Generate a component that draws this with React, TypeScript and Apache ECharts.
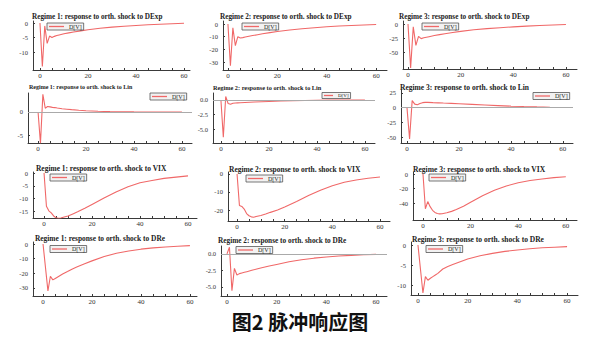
import React, { useEffect, useRef } from "react";
import * as echarts from "echarts";

// ---------- data ----------
const steps = [0, 1, 2, 3, 4, 5, 6, 7, 8, 10, 12, 14, 17, 20, 25, 30, 35, 40, 45, 50, 55, 60];
const shocks = ["DExp", "Lin", "VIX", "DRe"];
const regimes = [1, 2, 3];
const seriesName = "D[V]";
const caption = "图2 脉冲响应图";
const xTickLabels = [0, 20, 40, 60];
const xTickMarks = [0, 5, 10, 15, 20, 25, 30, 35, 40, 45, 50, 55, 60];

const r1DExp = [0, -15, -1, -7, -4.5, -5, -4.6, -4.3, -4.1, -3.7, -3.4, -3.1, -2.7, -2.3, -1.8, -1.4, -1.1, -0.85, -0.6, -0.4, -0.25, -0.1];
const r2DExp = [0, -33, -3, -17, -10, -11, -10.7, -10.3, -9.9, -9.1, -8.4, -7.7, -6.8, -5.9, -4.7, -3.7, -2.9, -2.2, -1.6, -1.1, -0.7, -0.4];
const r3DExp = [0, -78, -5, -38, -22, -26, -24.5, -23.5, -22.5, -20.5, -18.8, -17.2, -15, -13, -10.3, -8.2, -6.5, -5, -3.7, -2.6, -1.6, -0.8];

const r1Lin = [0, -6.8, 3.8, 0.8, 1.2, 1.1, 1.0, 0.95, 0.85, 0.7, 0.6, 0.5, 0.38, 0.28, 0.15, 0.08, 0.04, 0.02, 0.01, 0, 0, 0];
const r2Lin = [0, -6.4, 0.6, -0.6, -0.75, -0.55, -0.52, -0.5, -0.48, -0.44, -0.4, -0.36, -0.31, -0.26, -0.18, -0.12, -0.08, -0.05, -0.03, -0.02, -0.01, 0];
const r3Lin = [0, -53, 12, 6, 5, 7, 8.5, 9, 9, 8.5, 8.2, 7.8, 7.3, 6.7, 5.6, 4.5, 3.5, 2.6, 1.9, 1.3, 0.8, 0.4];

const r1VIX = [0, -13, -14.8, -15.6, -16.8, -17.5, -17.7, -17.6, -17.3, -16.8, -16, -15.2, -13.8, -12.3, -9.8, -7.4, -5.4, -3.8, -2.9, -2.1, -1.6, -1.1];
const r2VIX = [0, -17.5, -18, -19.5, -22, -23.2, -23.8, -24, -23.6, -23, -22.2, -21.3, -20, -18.3, -15.3, -12, -9, -6.5, -4.6, -3.3, -2.4, -1.7];
const r3VIX = [0, -48, -38, -45, -50, -53, -54.5, -55, -54.8, -53.5, -51.5, -49, -44.5, -39, -30, -22.5, -16.5, -12, -9, -6.8, -5, -3.7];

const r1DRe = [0, -16, -32, -22, -24.5, -23.5, -22.5, -21.5, -20.5, -18.8, -17, -15.5, -13.4, -11.5, -8.5, -6.3, -4.7, -3.5, -2.6, -2, -1.5, -1.1];
const r2DRe = [0, 1, -5.6, -2.2, -3.2, -3, -2.9, -2.8, -2.7, -2.5, -2.3, -2.1, -1.85, -1.6, -1.2, -0.9, -0.65, -0.47, -0.33, -0.22, -0.14, -0.08];
const r3DRe = [0, -6, -12, -7.9, -8.8, -8.3, -7.9, -7.5, -7.1, -6, -5.4, -4.9, -4.2, -3.5, -2.7, -2.1, -1.6, -1.25, -0.95, -0.7, -0.55, -0.4];

const values = [r1DExp, r2DExp, r3DExp, r1Lin, r2Lin, r3Lin, r1VIX, r2VIX, r3VIX, r1DRe, r2DRe, r3DRe];

const yTickLabels = [
  [0, -5, -10], [0, -10, -20, -30], [0, -25, -50],
  [0, -5], [0, -2.5, -5], [25, 0, -25, -50],
  [0, -5, -10, -15], [0, -10, -20], [0, -20, -40],
  [0, -10, -20, -30], [0, -2.5, -5], [0, -5, -10],
];

// ---------- layout (pixels / axis ranges) ----------
type Panel = {
  g: number[]; x: number[]; y: number[]; t: number[]; lg: number[];
  lw?: number; lf?: number; zero?: boolean; dec?: number;
};
const panels: Panel[] = [
  { g: [33, 21, 190, 70], x: [-2.9, 62.5], y: [-16.2, 0.7], t: [32, 17, 7.2], lg: [47, 23] },
  { g: [223, 21, 387, 70], x: [-2, 64.4], y: [-36.3, 2.4], t: [220, 17, 7.25], lg: [242, 23] },
  { g: [403, 21, 577, 69], x: [-1.9, 64.2], y: [-80, 5.4], t: [399, 17, 7.2], lg: [422, 23] },
  { g: [28, 93, 192, 143], x: [-4.2, 64.2], y: [-6.7, 4.1], t: [29, 87, 6.0], lg: [150, 93], zero: true },
  { g: [213, 93, 375, 143], x: [-3.3, 64.2], y: [-7.4, 1.2], t: [213, 87, 6.3], lg: [322, 92.5], lw: 9, lf: 5, zero: true, dec: 1 },
  { g: [401, 90, 573, 143], x: [-2.3, 63.9], y: [-60, 30], t: [400, 87, 7.5], lg: [533, 92.5], zero: true },
  { g: [33, 172, 197, 218], x: [-4.6, 63.75], y: [-17.6, 0.4], t: [36, 168, 7.45], lg: [50, 174] },
  { g: [228, 172, 390, 221], x: [-3.8, 64.2], y: [-26.1, 1.1], t: [229, 169, 7.5], lg: [246, 175] },
  { g: [413, 172, 577, 220], x: [-4.2, 64.7], y: [-63.4, 2.8], t: [413, 169, 7.55], lg: [429, 174] },
  { g: [33, 242, 197, 296], x: [-4.1, 62.9], y: [-35.5, 1.4], t: [35, 238, 7.4], lg: [50, 245.5] },
  { g: [221, 246, 387, 296], x: [-2.4, 64.4], y: [-6.4, 1.2], t: [218, 240, 7.3], lg: [236, 246.5], zero: true, dec: 1 },
  { g: [411, 242, 578, 295], x: [-2.8, 64.4], y: [-12.5, 0.75], t: [412, 239, 7.5], lg: [426, 245.5] },
];

const LINE_COLOR = "#f06868";
const AXIS_COLOR = "#3a3a3a";
const SERIF = "'Liberation Serif', 'Times New Roman', serif";

function buildOption() {
  const titles: any[] = [];
  const grids: any[] = [];
  const xAxes: any[] = [];
  const yAxes: any[] = [];
  const legends: any[] = [];
  const series: any[] = [];

  panels.forEach((p, i) => {
    const shock = shocks[Math.floor(i / 3)];
    const regime = regimes[i % 3];
    const [l, t, r, b] = p.g;
    titles.push({
      text: `Regime ${regime}: response to orth. shock to ${shock}`,
      left: p.t[0],
      top: p.t[1] - p.t[2] / 2,
      padding: 0,
      textStyle: { fontSize: p.t[2], lineHeight: p.t[2], fontWeight: "bold", fontFamily: SERIF, color: "#222" },
    });
    grids.push({ left: l, top: t, width: r - l, height: b - t, containLabel: false });
    xAxes.push({
      type: "value", gridIndex: i, min: p.x[0], max: p.x[1],
      axisLine: { show: true, onZero: false, lineStyle: { color: AXIS_COLOR, width: 1 } },
      axisTick: { show: true, inside: true, length: 2, customValues: xTickMarks, lineStyle: { color: AXIS_COLOR } },
      axisLabel: { customValues: xTickLabels, fontSize: 7, fontFamily: SERIF, color: "#333", margin: 2 },
      splitLine: { show: false },
    });
    const yl = yTickLabels[i];
    const dec = p.dec || 0;
    yAxes.push({
      type: "value", gridIndex: i, min: p.y[0], max: p.y[1],
      axisLine: { show: true, onZero: false, lineStyle: { color: AXIS_COLOR, width: 1 } },
      axisTick: { show: true, inside: true, length: 2, customValues: yl, lineStyle: { color: AXIS_COLOR } },
      axisLabel: {
        customValues: yl, fontSize: 6.5, fontFamily: SERIF, color: "#333", margin: 5,
        formatter: (v: number) => (dec ? v.toFixed(dec) : String(v)),
      },
      splitLine: { show: false },
    });
    legends.push({
      left: p.lg[0], top: p.lg[1], selectedMode: false, data: [seriesName],
      icon: "rect", itemWidth: p.lw || 15, itemHeight: 1.3, itemGap: 0,
      padding: [0.5, 2, 0.5, 2], borderColor: "#555", borderWidth: 0.8, borderRadius: 0,
      backgroundColor: "#f2f2f2",
      textStyle: { fontSize: p.lf || 6, lineHeight: p.lf || 6, fontFamily: SERIF, color: "#222" },
    });
    const s: any = {
      type: "line", name: seriesName, xAxisIndex: i, yAxisIndex: i,
      data: steps.map((x, k) => [x, values[i][k]]),
      showSymbol: false, symbol: "none",
      lineStyle: { color: LINE_COLOR, width: 1.1 },
      itemStyle: { color: LINE_COLOR },
      z: 3,
    };
    if (p.zero) {
      s.markLine = {
        silent: true, symbol: ["none", "none"], label: { show: false },
        lineStyle: { color: "#aaaaaa", width: 1, type: "solid" },
        data: [{ yAxis: 0 }],
      };
    }
    series.push(s);
  });

  titles.push({
    text: caption, left: "center", top: 311, padding: 0,
    textStyle: { fontSize: 20, fontWeight: "bold", fontFamily: "'Noto Sans CJK SC', sans-serif", color: "#111" },
  });

  return {
    animation: false,
    backgroundColor: "#ffffff",
    title: titles,
    grid: grids,
    xAxis: xAxes,
    yAxis: yAxes,
    legend: legends,
    series,
  };
}

export default function App() {
  const ref = useRef<HTMLDivElement>(null);
  useEffect(() => {
    if (!ref.current) return;
    const chart = echarts.init(ref.current, undefined, { renderer: "svg" });
    chart.setOption(buildOption() as any);
    return () => chart.dispose();
  }, []);
  return (
    <div
      ref={ref}
      style={{ position: "absolute", left: 0, top: 0, width: 600, height: 351, background: "#fff" }}
    />
  );
}
